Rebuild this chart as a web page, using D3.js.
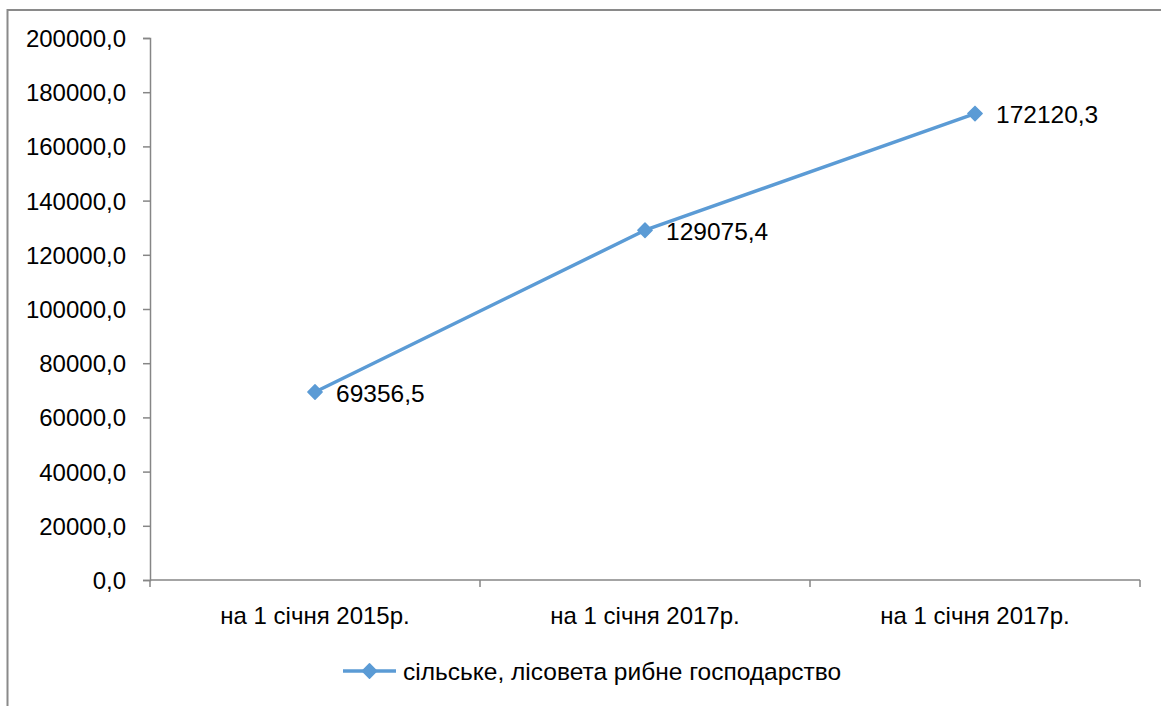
<!DOCTYPE html>
<html><head><meta charset="utf-8">
<script src="https://cdn.jsdelivr.net/npm/d3@7"></script>
<style>html,body{margin:0;padding:0;background:#fff;}svg{display:block;}</style>
</head><body>
<svg id="c" width="1161" height="706"></svg>
<script>
const categories = ["на 1 січня 2015р.", "на 1 січня 2017р.", "на 1 січня 2017р."];
const values = [69356.5, 129075.4, 172120.3];
const valueLabels = ["69356,5", "129075,4", "172120,3"];
const yTicks = [0, 20000, 40000, 60000, 80000, 100000, 120000, 140000, 160000, 180000, 200000];
const seriesName = "сільське, лісовета рибне господарство";

const svg = d3.select("#c");
const font = "'Liberation Sans', Arial, sans-serif";
const axisColor = "#868686";
const lineColor = "#5B9BD5";

// chart border
svg.append("rect").attr("x", 7.5).attr("y", 10).attr("width", 1300).attr("height", 900)
  .attr("fill", "none").attr("stroke", "#8a8a8a").attr("stroke-width", 2);

const pLeft = 150, pRight = 1140, pTop = 38, pBottom = 580;
const x = d3.scaleBand().domain(d3.range(categories.length)).range([pLeft, pRight]).padding(0);
const y = d3.scaleLinear().domain([0, 200000]).range([pBottom, pTop]);
const fmt = d => d3.format(".1f")(d).replace(".", ",");

// y axis
const ya = svg.append("g").attr("transform", `translate(${pLeft},0)`)
  .call(d3.axisLeft(y).tickValues(yTicks).tickFormat(fmt).tickSize(7).tickPadding(17));
ya.select(".domain").attr("stroke", axisColor).attr("stroke-width", 1.5);
ya.selectAll(".tick line").attr("stroke", axisColor).attr("stroke-width", 1.5);
ya.selectAll(".tick text").attr("font-family", font).attr("font-size", "24px").attr("fill", "#000")
  .attr("dy", "0.35em");

// x axis
const xa = svg.append("g").attr("transform", `translate(0,${pBottom})`)
  .call(d3.axisBottom(x).tickSize(0).tickFormat(i => categories[i]).tickPadding(27));
xa.select(".domain").attr("stroke", axisColor).attr("stroke-width", 1.5).attr("d", `M${pLeft},0H${pRight}`);
xa.selectAll(".tick text").attr("font-family", font).attr("font-size", "24px").attr("fill", "#000");
// category boundary ticks
const bounds = d3.range(categories.length + 1).map(i => i < categories.length ? x(i) : x(categories.length - 1) + x.bandwidth());
xa.selectAll("line.b").data(bounds).enter().append("line")
  .attr("x1", d => d).attr("x2", d => d).attr("y1", 0).attr("y2", 7)
  .attr("stroke", axisColor).attr("stroke-width", 1.5);

// line
const cx = i => x(i) + x.bandwidth() / 2;
svg.append("path").datum(values)
  .attr("d", d3.line().x((d, i) => cx(i)).y(d => y(d)))
  .attr("fill", "none").attr("stroke", lineColor).attr("stroke-width", 3.5).attr("stroke-linejoin", "round");

const diamond = d3.symbol().type(d3.symbolDiamond2).size(130);
svg.selectAll("path.m").data(values).enter().append("path")
  .attr("transform", (d, i) => `translate(${cx(i)},${y(d)})`)
  .attr("d", diamond).attr("fill", lineColor).attr("stroke", lineColor).attr("stroke-width", 1.5)
  .attr("stroke-linejoin", "round");

svg.selectAll("text.v").data(values).enter().append("text")
  .attr("x", (d, i) => cx(i) + 21).attr("y", d => y(d) + 1)
  .attr("dy", "0.35em")
  .attr("font-family", font).attr("font-size", "24.5px").attr("fill", "#000")
  .text((d, i) => valueLabels[i]);

// legend
const ly = 671;
svg.append("line").attr("x1", 343).attr("x2", 396).attr("y1", ly).attr("y2", ly)
  .attr("stroke", lineColor).attr("stroke-width", 3.5);
svg.append("path").attr("transform", `translate(369.5,${ly})`).attr("d", diamond)
  .attr("fill", lineColor).attr("stroke", lineColor).attr("stroke-width", 1.5).attr("stroke-linejoin", "round");
svg.append("text").attr("x", 403).attr("y", ly).attr("dy", "0.35em")
  .attr("font-family", font).attr("font-size", "24.5px").attr("fill", "#000").text(seriesName);
</script>
</body></html>
